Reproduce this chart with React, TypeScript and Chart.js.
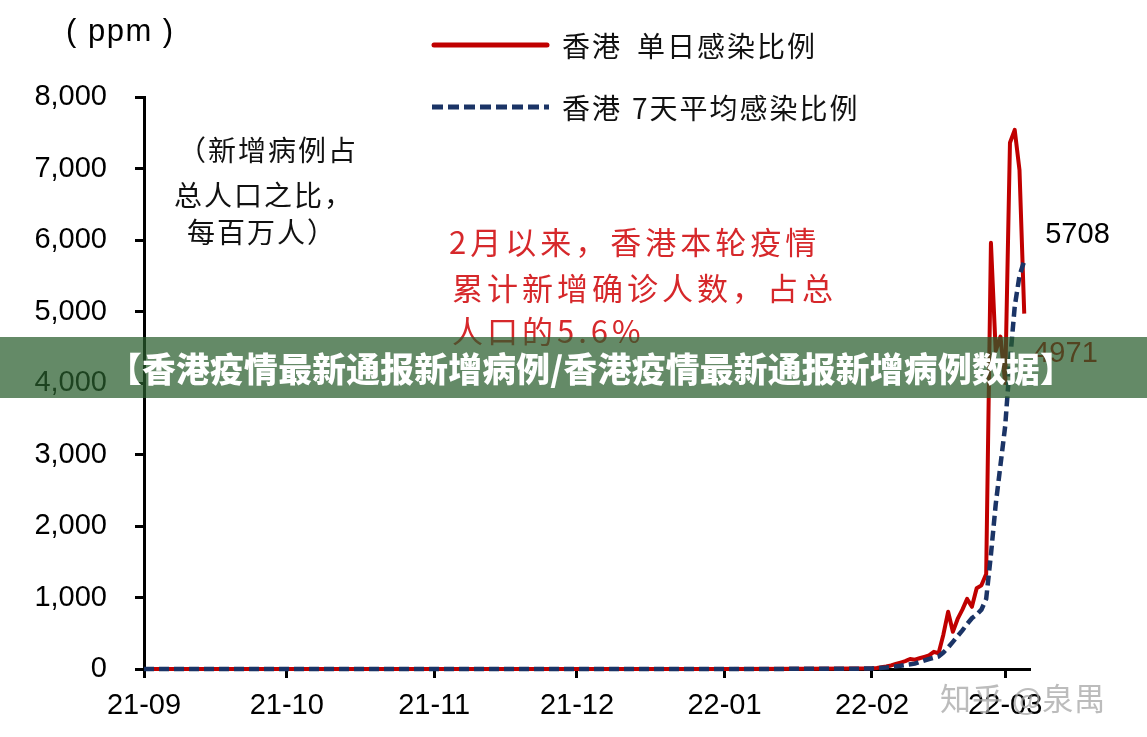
import React, { useEffect, useRef } from 'react';
import { Chart, registerables } from 'chart.js';

Chart.register(...registerables);

// ---- Data (day index counted from 2021-09-01) ----
const MONTH_DAYS = [0, 30, 61, 91, 122, 153, 181];
const MONTH_LABELS = ['21-09', '21-10', '21-11', '21-12', '22-01', '22-02', '22-03'];

const Y_MIN = 0;
const Y_MAX = 8000;
const Y_STEP = 1000;

const DAILY_DAYS = [0, 30, 61, 91, 122, 140, 150, 153, 154, 155, 156, 157, 158, 159, 160, 161, 162, 163, 164, 165, 166, 167, 168, 169, 170, 171, 172, 173, 174, 175, 176, 177, 178, 179, 180, 181, 182, 183, 184, 185];
const DAILY_VALUES = [0, 0, 0, 0, 1, 3, 8, 10, 15, 25, 35, 50, 70, 90, 110, 140, 130, 150, 170, 190, 240, 220, 480, 800, 520, 700, 830, 980, 870, 1130, 1170, 1330, 5960, 4450, 4650, 4000, 7360, 7540, 6980, 4971];

const AVG_DAYS = [0, 30, 61, 91, 122, 140, 150, 153, 156, 159, 162, 165, 167, 168, 169, 170, 171, 172, 173, 174, 175, 176, 177, 178, 179, 180, 181, 182, 183, 184, 185];
const AVG_VALUES = [0, 0, 0, 0, 1, 2, 5, 7, 20, 45, 75, 140, 175, 230, 300, 380, 460, 540, 630, 710, 760, 830, 980, 1600, 2300, 2850, 3400, 4300, 5070, 5500, 5708];

const SERIES_NAMES = ['香港 单日感染比例', '香港 7天平均感染比例'];
const END_LABEL_DAILY = '4971';
const END_LABEL_AVG = '5708';

const UNIT_LABEL = '( ppm )';
const NOTE_BLACK = ['（新增病例占', '总人口之比，', '每百万人）'];
const NOTE_RED = ['2月以来，香港本轮疫情', '累计新增确诊人数，占总', '人口的5.6%'];
const BANNER_TEXT = '【香港疫情最新通报新增病例/香港疫情最新通报新增病例数据】';
const WATERMARK = '知乎 @泉禺';

// ---- Styles ----
const RED = '#c00000';
const NAVY = '#1b3466';
const NOTE_RED_COLOR = '#d6282b';
const LATIN = '"Liberation Sans", Arial, sans-serif';
const CJK = '"Noto Sans CJK SC", "Noto Sans", sans-serif';

function fmt(v: number): string {
  return String(v).replace(/\B(?=(\d{3})+(?!\d))/g, ',');
}

function text(ctx: CanvasRenderingContext2D, s: string, x: number, y: number, font: string, color: string, spacing = 0, align: CanvasTextAlign = 'left') {
  ctx.save();
  ctx.font = font;
  ctx.fillStyle = color;
  ctx.textAlign = align;
  ctx.textBaseline = 'middle';
  (ctx as any).letterSpacing = spacing + 'px';
  ctx.fillText(s, x, y);
  ctx.restore();
}

const overlayPlugin = {
  id: 'overlayTexts',
  afterDraw(chart: any) {
    const ctx: CanvasRenderingContext2D = chart.ctx;
    const xs = chart.scales.x;
    const ys = chart.scales.y;

    // unit
    text(ctx, UNIT_LABEL, 66, 32, `31px ${LATIN}`, '#000', 1.5);

    // legend
    ctx.save();
    ctx.lineCap = 'round';
    ctx.strokeStyle = RED;
    ctx.lineWidth = 5;
    ctx.beginPath();
    ctx.moveTo(434, 45);
    ctx.lineTo(547, 45);
    ctx.stroke();
    ctx.strokeStyle = NAVY;
    ctx.lineCap = 'butt';
    ctx.setLineDash([11, 5]);
    ctx.beginPath();
    ctx.moveTo(432, 107);
    ctx.lineTo(549, 107);
    ctx.stroke();
    ctx.restore();
    const [p1a, p1b] = SERIES_NAMES[0].split(' ');
    const [p2a, p2b] = SERIES_NAMES[1].split(' ');
    const legendFont = `400 28px ${CJK}`;
    text(ctx, p1a, 562, 46, legendFont, '#111', 2);
    text(ctx, p1b, 637, 46, legendFont, '#111', 2);
    text(ctx, p2a, 562, 108, legendFont, '#111', 2);
    text(ctx, p2b, 632, 108, legendFont, '#111', 2);

    // black note
    text(ctx, NOTE_BLACK[0], 178, 150, legendFont, '#111', 2);
    text(ctx, NOTE_BLACK[1], 174, 195, legendFont, '#111', 2);
    text(ctx, NOTE_BLACK[2], 187, 232, legendFont, '#111', 2);

    // red note
    const redFont = `400 31px ${CJK}`;
    text(ctx, NOTE_RED[0], 449, 242, redFont, NOTE_RED_COLOR, 4);
    text(ctx, NOTE_RED[1], 452, 288, redFont, NOTE_RED_COLOR, 4);
    text(ctx, NOTE_RED[2], 452, 331, redFont, NOTE_RED_COLOR, 4);

    // end labels
    const lastAvgY = ys.getPixelForValue(AVG_VALUES[AVG_VALUES.length - 1]);
    text(ctx, END_LABEL_AVG, xs.getPixelForValue(AVG_DAYS[AVG_DAYS.length - 1]) + 21, lastAvgY - 26, `29px ${LATIN}`, '#000');
    text(ctx, END_LABEL_DAILY, xs.getPixelForValue(DAILY_DAYS[DAILY_DAYS.length - 1]) + 9, 354, `29px ${LATIN}`, RED);

    // banner
    ctx.save();
    ctx.fillStyle = 'rgba(40,93,44,0.72)';
    ctx.fillRect(0, 337, chart.width, 61);
    ctx.restore();
    ctx.save();
    ctx.font = `900 34px ${CJK}`;
    ctx.fillStyle = '#ffffff';
    ctx.textBaseline = 'middle';
    (ctx as any).letterSpacing = '0.3px';
    ctx.fillText(BANNER_TEXT, 108, 369, 966);
    ctx.restore();

    // watermark
    text(ctx, WATERMARK, 940, 698, `31px ${CJK}`, 'rgba(165,165,165,0.75)', 1);
  },
};

export default function App() {
  const ref = useRef<HTMLCanvasElement | null>(null);

  useEffect(() => {
    if (!ref.current) return;
    const chart = new Chart(ref.current, {
      type: 'line',
      data: {
        datasets: [
          {
            label: SERIES_NAMES[1],
            data: AVG_DAYS.map((d, i) => ({ x: d, y: AVG_VALUES[i] })),
            borderColor: NAVY,
            borderWidth: 4.5,
            borderDash: [10, 5],
            pointRadius: 0,
            tension: 0,
            order: 0,
            clip: false as any,
          },
          {
            label: SERIES_NAMES[0],
            data: DAILY_DAYS.map((d, i) => ({ x: d, y: DAILY_VALUES[i] })),
            borderColor: RED,
            borderWidth: 4,
            borderJoinStyle: 'round',
            pointRadius: 0,
            tension: 0,
            order: 1,
            clip: false as any,
          },
        ],
      },
      options: {
        animation: false,
        responsive: false,
        maintainAspectRatio: false,
        layout: { padding: { top: 97, right: 118, left: 0, bottom: 0 } },
        plugins: { legend: { display: false }, tooltip: { enabled: false } },
        scales: {
          x: {
            type: 'linear',
            min: 0,
            max: 186,
            afterBuildTicks: (axis: any) => {
              axis.ticks = MONTH_DAYS.map((v) => ({ value: v }));
            },
            afterFit: (s: any) => {
              s.height = 68;
            },
            ticks: {
              autoSkip: false,
              maxRotation: 0,
              padding: 11,
              color: '#000',
              font: { family: LATIN, size: 29 },
              callback: (v: any) => {
                const i = MONTH_DAYS.indexOf(Number(v));
                return i >= 0 ? MONTH_LABELS[i] : '';
              },
            },
            grid: { drawOnChartArea: false, drawTicks: true, tickLength: 9, color: '#000', lineWidth: 3 },
            border: { display: true, color: '#000', width: 3 },
          },
          y: {
            min: Y_MIN,
            max: Y_MAX,
            afterFit: (s: any) => {
              s.width = 144;
            },
            ticks: {
              stepSize: Y_STEP,
              padding: 28,
              color: '#000',
              font: { family: LATIN, size: 29 },
              callback: (v: any) => fmt(Number(v)),
            },
            grid: { drawOnChartArea: false, drawTicks: true, tickLength: 9, color: '#000', lineWidth: 3 },
            border: { display: true, color: '#000', width: 3 },
          },
        },
      },
      plugins: [overlayPlugin],
    });
    return () => chart.destroy();
  }, []);

  return (
    <div style={{ position: 'absolute', left: 0, top: 0, width: 1147, height: 737, background: '#fff' }}>
      <canvas ref={ref} width={1147} height={737} style={{ display: 'block', width: 1147, height: 737 }} />
    </div>
  );
}
